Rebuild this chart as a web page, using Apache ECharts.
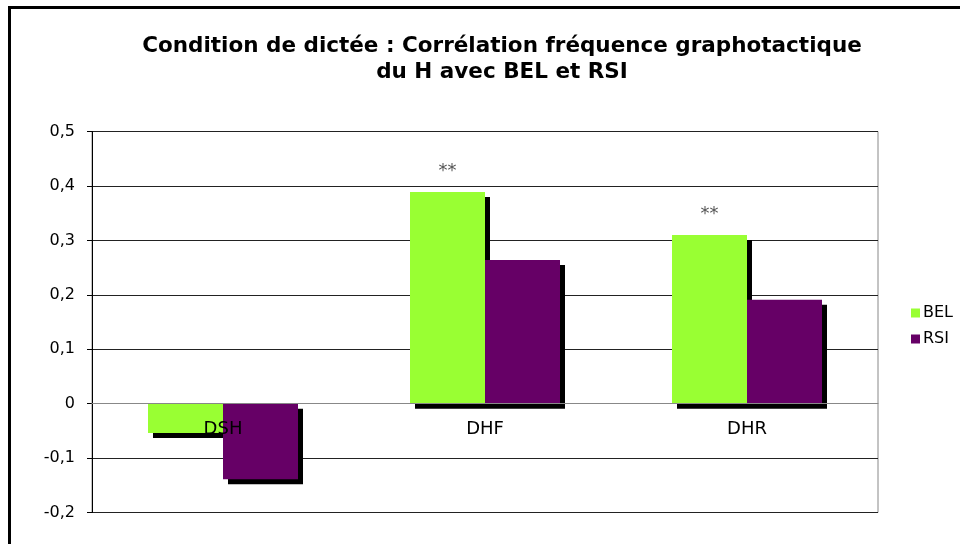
<!DOCTYPE html>
<html>
<head>
<meta charset="utf-8">
<script src="https://cdn.jsdelivr.net/npm/echarts@6/dist/echarts.min.js"></script>
<style>html,body{margin:0;padding:0;background:#fff}#c{width:964px;height:544px}</style>
</head>
<body>
<div id="c"></div>
<script>
const categories = ['DSH', 'DHF', 'DHR'];
const belValues = [-0.054, 0.389, 0.310];
const rsiValues = [-0.139, 0.264, 0.191];
const belMarks = ['', '**', '**'];
const yTicks = [-0.2, -0.1, 0, 0.1, 0.2, 0.3, 0.4, 0.5];

const chart = echarts.init(document.getElementById('c'), null, {renderer: 'canvas'});
const fontFam = 'DejaVu Sans, Verdana, sans-serif';
chart.setOption({
  animation: false,
  backgroundColor: '#fff',
  title: {
    text: 'Condition de dictée : Corrélation fréquence graphotactique\ndu H avec BEL et RSI',
    left: 497, top: 28, textAlign: 'center',
    textStyle: {fontFamily: fontFam, fontWeight: 'bold', fontSize: 21.5, lineHeight: 26, color: '#000'}
  },
  graphic: [
    {type: 'line', shape: {x1: 10, y1: 7.5, x2: 960, y2: 7.5}, style: {stroke: '#000', lineWidth: 3}},
    {type: 'line', shape: {x1: 9.5, y1: 6, x2: 9.5, y2: 544}, style: {stroke: '#000', lineWidth: 3}}
  ],
  legend: {
    orient: 'vertical', left: 906, top: 300, itemWidth: 9, itemHeight: 9, itemGap: 10,
    icon: 'rect',
    textStyle: {fontFamily: fontFam, fontSize: 16, color: '#000', padding: [0, 0, 0, -2]},
    data: ['BEL', 'RSI']
  },
  grid: {left: 92, right: 86, top: 131.5, bottom: 31.5, show: true, borderColor: '#888', borderWidth: 1},
  xAxis: {
    type: 'category', data: categories, z: 5,
    axisLine: {onZero: true, lineStyle: {color: '#888'}},
    axisTick: {show: false},
    axisLabel: {fontFamily: fontFam, fontSize: 18, color: '#000', margin: -92}
  },
  yAxis: {
    type: 'value', min: -0.2, max: 0.5, interval: 0.1,
    axisLine: {show: true, lineStyle: {color: '#000'}},
    axisTick: {show: true, length: 5, lineStyle: {color: '#000'}},
    splitLine: {lineStyle: {color: '#222'}},
    axisLabel: {
      fontFamily: fontFam, fontSize: 16, color: '#000', margin: 17,
      formatter: v => {
        const r = Math.round(v * 10) / 10;
        return r === 0 ? '0' : r.toFixed(1).replace('.', ',');
      }
    }
  },
  series: [
    {
      name: 'BEL', type: 'bar', data: belValues, barWidth: 75, barGap: '0%',
      itemStyle: {color: '#99FF33', shadowColor: '#000', shadowOffsetX: 5, shadowOffsetY: 5, shadowBlur: 0},
      label: {
        show: true, position: 'top', distance: 12,
        formatter: p => belMarks[p.dataIndex],
        fontFamily: fontFam, fontSize: 18, color: '#555'
      }
    },
    {
      name: 'RSI', type: 'bar', data: rsiValues, barWidth: 75,
      itemStyle: {color: '#660066', shadowColor: '#000', shadowOffsetX: 5, shadowOffsetY: 5, shadowBlur: 0}
    }
  ]
});
</script>
</body>
</html>
